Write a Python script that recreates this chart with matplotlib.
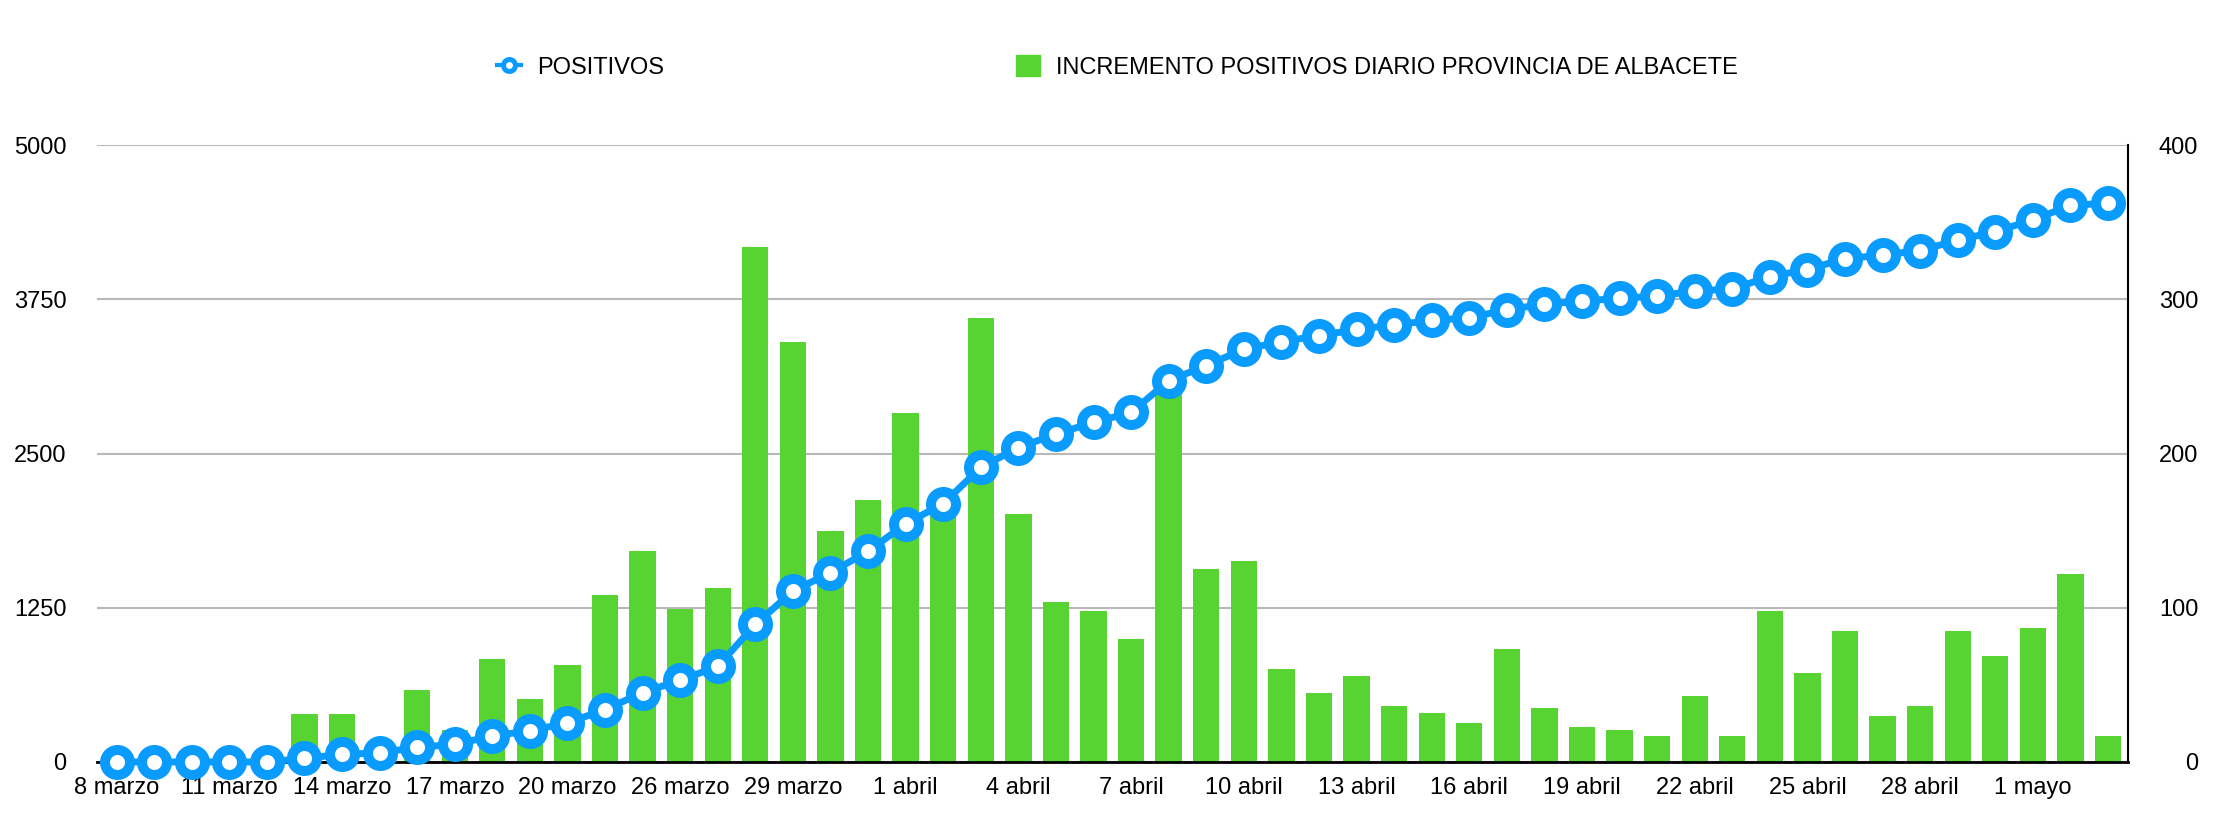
import numpy as np
import matplotlib
matplotlib.use("Agg")
import matplotlib.pyplot as plt
from matplotlib.lines import Line2D
from matplotlib.patches import Patch

# fechas (hay un hueco en los datos entre el 20 y el 26 de marzo)
fechas = (
    ["8 marzo", "9 marzo", "10 marzo", "11 marzo", "12 marzo", "13 marzo",
     "14 marzo", "15 marzo", "16 marzo", "17 marzo", "18 marzo", "19 marzo",
     "20 marzo", "24 marzo", "25 marzo", "26 marzo", "27 marzo", "28 marzo",
     "29 marzo", "30 marzo", "31 marzo"]
    + [f"{d} abril" for d in range(1, 31)]
    + ["1 mayo", "2 mayo", "3 mayo"]
)

# positivos acumulados (eje izquierdo)
positivos = [0, 0, 0, 0, 0, 30, 62, 73, 120, 142,
             212, 252, 318, 424, 563, 662, 775, 1115, 1385, 1535,
             1707, 1930, 2094, 2387, 2548, 2657, 2752, 2833, 3089, 3213,
             3344, 3406, 3454, 3505, 3542, 3578, 3600, 3665, 3710, 3735,
             3757, 3776, 3816, 3834, 3933, 3991, 4079, 4108, 4145, 4229,
             4298, 4393, 4510, 4529]

# incremento diario (eje derecho)
incremento = [0, 0, 0, 0, 0, 31, 31, 11, 47, 21,
              67, 41, 63, 108, 137, 99, 113, 334, 272, 150,
              170, 226, 165, 288, 161, 104, 98, 80, 248, 125,
              130, 60, 45, 56, 36, 32, 25, 73, 35, 23,
              21, 17, 43, 17, 98, 58, 85, 30, 36, 85,
              69, 87, 122, 17]

ticks_izq = [0, 1250, 2500, 3750, 5000]
ticks_der = [0, 100, 200, 300, 400]

nombre_linea = "POSITIVOS"
nombre_barras = "INCREMENTO POSITIVOS DIARIO PROVINCIA DE ALBACETE"

AZUL = "#0a9bff"
VERDE = "#57d432"

plt.rcParams["font.family"] = ["Liberation Sans", "DejaVu Sans"]
FS = 17

W, H = 2222, 826
fig = plt.figure(figsize=(W / 100, H / 100), dpi=100)
ax = fig.add_axes([96.7 / W, 64 / H, (2127.5 - 96.7) / W, 617 / H])

x = np.arange(len(fechas))

# barras en el eje base (quedan debajo de la linea)
ax.bar(x, incremento, width=0.70, color=VERDE, zorder=2)
ax.set_ylim(0, 400)
ax.grid(axis="y", color="#b8b8b8", lw=1.5)
ax.set_axisbelow(True)
ax.set_xlim(-0.53, 53.52)
ax.set_xticks(x[::3])
ax.set_xticklabels(fechas[::3])
ax.tick_params(axis="x", length=0, pad=11, labelsize=FS)
for s in ["top", "left"]:
    ax.spines[s].set_visible(False)
ax.spines["right"].set_linewidth(1.5)
ax.spines["bottom"].set_linewidth(2)

# linea en el eje gemelo
ax2 = ax.twinx()
ax2.plot(x, positivos, color=AZUL, lw=5, marker="o", ms=18, mew=7.2,
         mfc="white", mec=AZUL, clip_on=False, zorder=3)
ax2.set_ylim(0, 5000)
ax2.set_yticks(ticks_izq)
ax2.yaxis.tick_left()
ax2.tick_params(axis="y", length=0, pad=21.6, labelsize=FS)
for s in ax2.spines.values():
    s.set_visible(False)

# twinx mueve los ticks del eje base a la izquierda: devolverlos a la derecha
ax.yaxis.tick_right()
ax.set_yticks(ticks_der)
ax.tick_params(axis="y", length=0, pad=51, labelsize=FS)
for tk in ax.yaxis.get_major_ticks():
    tk.label2.set_ha("right")

# leyenda
h_linea = Line2D([], [], color=AZUL, lw=3, marker="o", ms=8.6, mew=3.6,
                 mfc="white", mec=AZUL)
h_barra = Patch(color=VERDE)
fig.legend([h_linea, h_barra], [nombre_linea, nombre_barras],
           loc="center left", bbox_to_anchor=(485 / W, 1 - 67 / H),
           ncol=2, frameon=False, borderpad=0, fontsize=FS,
           handlelength=1.02, handleheight=1.0, handletextpad=0.68,
           columnspacing=14.9)

fig.savefig("out.png", dpi=100)
